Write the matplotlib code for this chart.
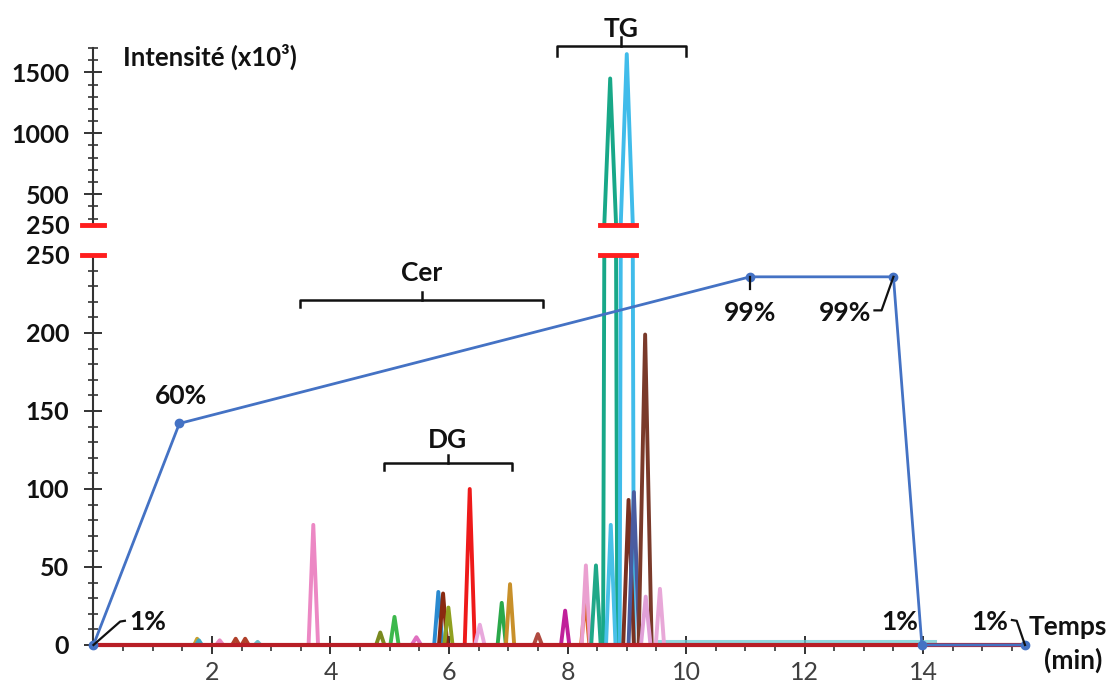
import matplotlib.pyplot as plt

plt.rcParams['font.family'] = ['Lato', 'DejaVu Sans']

# solvent gradient (time in min, level on the 0-250 scale, label)
grad_time = [0, 1.45, 11.08, 13.5, 13.98, 15.72]
grad_level = [0, 142, 236, 236, 0, 0]
grad_labels = ['1%', '60%', '99%', '99%', '1%', '1%']

# chromatogram peaks (retention time, height x10^3, half width at base, colour)
peak_rt = [1.75, 1.78, 2.13, 2.40, 2.56, 2.77, 3.71, 4.84, 5.08, 5.45, 5.82, 5.90,
           5.99, 6.35, 6.52, 6.89, 7.03, 7.50, 7.96, 8.30, 8.31, 8.48, 8.72, 8.73,
           9.00, 9.03, 9.12, 9.31, 9.32, 9.56]
peak_height = [4, 3, 3, 4, 4, 2, 77, 8, 18, 5, 34, 33,
               24, 100, 13, 27, 39, 7, 22, 30, 51, 51, 1450, 77,
               1650, 93, 98, 199, 31, 36]
peak_width = [0.05, 0.05, 0.06, 0.06, 0.06, 0.05, 0.08, 0.07, 0.07, 0.08, 0.07, 0.07,
              0.07, 0.085, 0.08, 0.07, 0.07, 0.07, 0.07, 0.07, 0.07, 0.08, 0.12, 0.08,
              0.12, 0.09, 0.09, 0.11, 0.08, 0.07]
peak_color = ['#C8A030', '#3FA8C0', '#E888C0', '#B0402A', '#B0402A', '#6CC0C8',
              '#EC88C4', '#7A8A20', '#3CB84C', '#E070C0', '#2A8AD0', '#8A2A10',
              '#90A020', '#EE1A1A', '#E8A8DC', '#2AA84A', '#C8902A', '#B04A40',
              '#C0209A', '#DA6420', '#EAA0D0', '#20A888', '#18A888', '#48C0E8',
              '#40BCEA', '#7A3020', '#4A5CA0', '#7A3A2A', '#E0A0D8', '#E8A8D8']

noise_time = [9.5, 14.2]
noise_level = [2.5, 2.5]

fig = plt.figure(figsize=(11.1, 6.86), dpi=100)
ax_top = fig.add_axes([0.0842, 0.6726, 0.8392, 0.2574])
ax = fig.add_axes([0.0842, 0.0598, 0.8392, 0.5685])

for a in (ax_top, ax):
    for rt, h, w, c in zip(peak_rt, peak_height, peak_width, peak_color):
        a.plot([rt - w, rt, rt + w], [0, h, 0], color=c, lw=2.8, zorder=3,
               solid_joinstyle='round')
    a.set_xlim(0, 15.72)
    for s in ('top', 'right'):
        a.spines[s].set_visible(False)
    a.spines['left'].set_linewidth(1.5)
    a.spines['left'].set_color('#333333')

ax.plot(noise_time, noise_level, color='#6CCAD2', lw=2.2, alpha=0.75, zorder=2.5)

ax_top.set_ylim(250, 1700)
ax.set_ylim(0, 250)
ax_top.spines['bottom'].set_visible(False)
ax_top.set_xticks([])

ax_top.set_yticks([250, 500, 1000, 1500])
ax_top.set_yticks([300, 400, 600, 700, 800, 900, 1100, 1200, 1300, 1400, 1600, 1700], minor=True)
ax.set_yticks([0, 50, 100, 150, 200, 250])
ax.set_yticks([v for v in range(10, 250, 10) if v % 50], minor=True)
ax.set_xticks([2, 4, 6, 8, 10, 12, 14])
ax.set_xticks([v / 2 for v in range(1, 32) if v % 4], minor=True)

for a in (ax_top, ax):
    a.tick_params(axis='y', which='major', direction='inout', length=13, width=1.4,
                  color='#333333', labelsize=18, pad=11, labelcolor='#111111')
    a.tick_params(axis='y', which='minor', direction='inout', length=7, width=1.2,
                  color='#333333')
    for lab in a.get_yticklabels():
        lab.set_fontweight('bold')
ax.tick_params(axis='x', which='major', direction='inout', length=13, width=1.4,
               color='#333333', labelsize=18, labelcolor='#404040', pad=5)
ax.tick_params(axis='x', which='minor', direction='out', length=4, width=1.2,
               color='#333333')
ax.spines['bottom'].set_linewidth(1.5)
ax.spines['bottom'].set_color('#333333')

# baseline
ax.plot([0, 15.72], [0, 0], color='#B81E26', lw=3, zorder=4, clip_on=False)

# axis break marks
red = '#FF1E1E'
ax_top.plot([-0.2, 0.17], [250, 250], color=red, lw=3.5, zorder=6, clip_on=False)
ax_top.plot([8.55, 9.16], [250, 250], color=red, lw=3.5, zorder=6, clip_on=False)
ax.plot([-0.2, 0.17], [250, 250], color=red, lw=3.5, zorder=6, clip_on=False)
ax.plot([8.55, 9.16], [250, 250], color=red, lw=3.5, zorder=6, clip_on=False)

# gradient
ax.plot(grad_time, grad_level, color='#4472C4', lw=2, marker='o', ms=6,
        zorder=7, clip_on=False)

lab_kw = dict(fontsize=19, fontweight='bold', ha='center', va='center', color='#111111')
leader_kw = dict(color='#111111', lw=1.6, zorder=8, clip_on=False)
ax.text(0.92, 14.7, grad_labels[0], **lab_kw)
ax.plot([0, 0.45, 0.53], [0, 15, 15.5], **leader_kw)
ax.text(1.48, 159.6, grad_labels[1], **lab_kw)
ax.text(11.08, 213, grad_labels[2], **lab_kw)
ax.plot([11.08, 11.08], [236, 228], **leader_kw)
ax.text(12.68, 213, grad_labels[3], **lab_kw)
ax.plot([13.5, 13.3, 13.18], [236, 214.5, 214.5], **leader_kw)
ax.text(13.61, 14.7, grad_labels[4], **lab_kw)
ax.text(15.13, 14.7, grad_labels[5], **lab_kw)
ax.plot([15.72, 15.58, 15.5], [0, 15.5, 16], **leader_kw)


def bracket(a, x0, x1, y, down, up):
    xm = (x0 + x1) / 2
    a.plot([x0, x0, x1, x1], [y - down, y, y, y - down], color='#111111', lw=1.8,
           clip_on=False, zorder=8)
    a.plot([xm, xm], [y, y + up], color='#111111', lw=1.8, clip_on=False, zorder=8)


bracket(ax, 3.49, 7.59, 221, 4.5, 5)
ax.text(5.54, 238.5, 'Cer', **lab_kw)
bracket(ax, 4.90, 7.06, 116.7, 4.5, 5)
ax.text(5.98, 131.4, 'DG', **lab_kw)
bracket(ax_top, 7.82, 10.0, 1717, 80, 70)
ax_top.text(8.91, 1858, 'TG', **lab_kw)

fig.text(0.1108, 0.917, 'Intensité (x10³)', fontsize=18.5, fontweight='bold',
         ha='left', va='center', color='#111111')
fig.text(0.962, 0.086, 'Temps', fontsize=19, fontweight='bold', ha='center',
         va='center', color='#111111')
fig.text(0.967, 0.038, '(min)', fontsize=19, fontweight='bold', ha='center',
         va='center', color='#111111')

fig.savefig('out.png', dpi=100)
